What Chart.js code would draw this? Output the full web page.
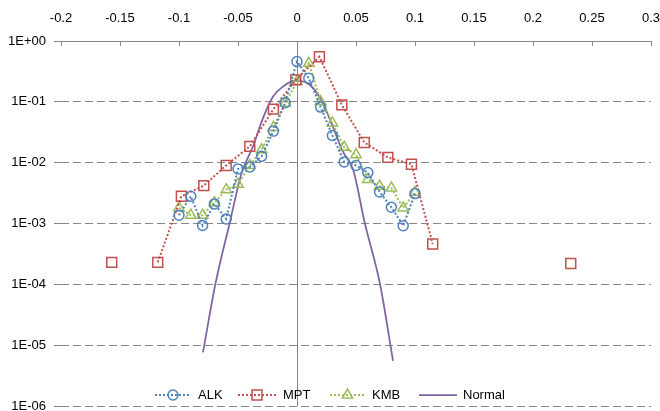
<!DOCTYPE html>
<html>
<head>
<meta charset="utf-8">
<script src="https://cdn.jsdelivr.net/npm/chart.js@4/dist/chart.umd.min.js"></script>
<style>
  html, body { margin: 0; padding: 0; background: #fff; }
  #wrap { width: 660px; height: 411px; }
</style>
</head>
<body>
<div id="wrap"><canvas id="c"></canvas></div>
<script>
// values
var alkX = [-0.10, -0.09, -0.08, -0.07, -0.06, -0.05, -0.04, -0.03, -0.02, -0.01, 0, 0.01, 0.02, 0.03, 0.04, 0.05, 0.06, 0.07, 0.08, 0.09, 0.10];
var alkY = [1.37e-3, 2.8e-3, 9.3e-4, 2.1e-3, 1.19e-3, 7.9e-3, 8.5e-3, 1.27e-2, 3.3e-2, 9.7e-2, 0.46, 0.244, 0.082, 0.028, 0.0103, 9.0e-3, 6.9e-3, 3.3e-3, 1.85e-3, 9.2e-4, 3.1e-3];

var mptX = [-0.157, -0.137, -0.118, -0.098, -0.079, -0.060, -0.040, -0.020, -0.001, 0.019, 0.038, 0.057, 0.077, 0.097, 0.115, 0.135, 0.232];
var mptY = [2.3e-4, null, 2.3e-4, 2.8e-3, 4.2e-3, 9.0e-3, 1.85e-2, 0.076, 0.23, 0.55, 0.089, 0.0215, 0.0122, 9.4e-3, 4.6e-4, null, 2.2e-4];

var kmbX = alkX;
var kmbY = [1.8e-3, 1.37e-3, 1.37e-3, 2.2e-3, 3.6e-3, 4.4e-3, 9.0e-3, 0.0163, 0.038, 0.095, 0.215, 0.43, 0.101, 0.045, 0.018, 0.0135, 5.3e-3, 4.1e-3, 3.85e-3, 1.8e-3, 3.26e-3];

var normX = [-0.0797, -0.0689, -0.057, -0.0471, -0.0373, -0.0288, -0.0203, -0.0119, -0.002, 0.008, 0.0149, 0.0219, 0.0304, 0.0388, 0.0475, 0.0574, 0.0701, 0.0814];
var normY = [7.6e-6, 1.07e-4, 1.03e-3, 6.6e-3, 0.0185, 0.054, 0.122, 0.178, 0.223, 0.207, 0.157, 0.095, 0.039, 0.0153, 7.7e-3, 1.03e-3, 1.07e-4, 5.5e-6];

var xTicks = [-0.2, -0.15, -0.1, -0.05, 0, 0.05, 0.1, 0.15, 0.2, 0.25, 0.3];
var yTicks = [1, 1e-1, 1e-2, 1e-3, 1e-4, 1e-5, 1e-6];

var GRAY = '#878787';
var FONT = { family: "'Liberation Sans', Arial, sans-serif", size: 13 };

function pts(xs, ys) {
  return xs.map(function(x, i) { return { x: x, y: ys[i] }; });
}

function expLabel(v) {
  var e = Math.round(Math.log10(v));
  var a = Math.abs(e);
  return '1E' + (e < 0 ? '-' : '+') + (a < 10 ? '0' : '') + a;
}

// tick marks inside the top axis, and the legend drawn over the plot
var extras = {
  id: 'extras',
  afterDraw: function(chart) {
    var ctx = chart.ctx;
    var xs = chart.scales.x;
    var top = chart.chartArea.top;
    ctx.save();
    ctx.strokeStyle = GRAY;
    ctx.lineWidth = 1;
    xTicks.forEach(function(v) {
      var px = Math.round(xs.getPixelForValue(v)) + 0.5;
      ctx.beginPath();
      ctx.moveTo(px, top);
      ctx.lineTo(px, top + 5);
      ctx.stroke();
    });

    // legend
    var y = 395;
    var items = [
      { ds: 0, x0: 155, x1: 191, tx: 198 },
      { ds: 1, x0: 238, x1: 276, tx: 283 },
      { ds: 2, x0: 330, x1: 365, tx: 372 },
      { ds: 3, x0: 419, x1: 457, tx: 463 }
    ];
    ctx.font = FONT.size + 'px ' + FONT.family;
    ctx.textBaseline = 'middle';
    items.forEach(function(it) {
      var ds = chart.data.datasets[it.ds];
      ctx.save();
      ctx.strokeStyle = ds.borderColor;
      ctx.lineWidth = ds.borderWidth;
      ctx.setLineDash(ds.borderDash || []);
      ctx.beginPath();
      ctx.moveTo(it.x0, y);
      ctx.lineTo(it.x1, y);
      ctx.stroke();
      ctx.restore();
      if (ds.pointRadius > 0) {
        ctx.save();
        ctx.strokeStyle = ds.pointBorderColor;
        ctx.fillStyle = 'rgba(0,0,0,0)';
        ctx.lineWidth = ds.pointBorderWidth;
        Chart.helpers.drawPoint(ctx, { pointStyle: ds.pointStyle, radius: ds.pointRadius, rotation: 0, borderWidth: ds.pointBorderWidth }, (it.x0 + it.x1) / 2, y);
        ctx.restore();
      }
      ctx.fillStyle = '#000';
      ctx.fillText(ds.label, it.tx, y);
    });
    ctx.restore();
  }
};

var dotted = [2, 2];

new Chart(document.getElementById('c'), {
  type: 'line',
  data: {
    datasets: [
      {
        label: 'ALK', data: pts(alkX, alkY),
        borderColor: '#4F81BD', borderWidth: 2, borderDash: dotted,
        pointStyle: 'circle', pointRadius: 5, pointBorderWidth: 1.5,
        pointBorderColor: '#4F81BD', pointBackgroundColor: 'rgba(0,0,0,0)'
      },
      {
        label: 'MPT', data: pts(mptX, mptY),
        borderColor: '#C0504D', borderWidth: 2, borderDash: dotted, spanGaps: false,
        pointStyle: 'rect', pointRadius: 7, pointBorderWidth: 1.5,
        pointBorderColor: '#C0504D', pointBackgroundColor: 'rgba(0,0,0,0)'
      },
      {
        label: 'KMB', data: pts(kmbX, kmbY),
        borderColor: '#9BBB59', borderWidth: 2, borderDash: dotted,
        pointStyle: 'triangle', pointRadius: 6, pointBorderWidth: 1.5,
        pointBorderColor: '#9BBB59', pointBackgroundColor: 'rgba(0,0,0,0)'
      },
      {
        label: 'Normal', data: pts(normX, normY),
        borderColor: '#8064A2', borderWidth: 1.75,
        pointRadius: 0, cubicInterpolationMode: 'monotone'
      }
    ]
  },
  options: {
    responsive: true,
    maintainAspectRatio: false,
    animation: false,
    events: [],
    layout: { autoPadding: false, padding: { left: 0, right: 9, top: 0, bottom: 5 } },
    plugins: { legend: { display: false }, tooltip: { enabled: false } },
    scales: {
      x: {
        type: 'linear', position: 'top', min: -0.2, max: 0.3,
        afterBuildTicks: function(s) { s.ticks = xTicks.map(function(v) { return { value: v }; }); },
        afterFit: function(s) { s.height = 41; s.paddingLeft = 0; s.paddingRight = 0; },
        ticks: {
          font: FONT, color: '#000', padding: 15, maxRotation: 0, autoSkip: false,
          callback: function(v) { return String(Math.round(v * 100) / 100); }
        },
        grid: {
          drawTicks: false, lineWidth: 1,
          color: function(c) { return c.tick && Math.abs(c.tick.value) < 1e-9 ? GRAY : 'rgba(0,0,0,0)'; }
        },
        border: { display: true, color: GRAY, width: 1 }
      },
      y: {
        type: 'logarithmic', position: 'left', min: 1e-6, max: 1,
        afterBuildTicks: function(s) { s.ticks = yTicks.map(function(v) { return { value: v }; }); },
        afterFit: function(s) { s.width = 61; s.paddingTop = 0; s.paddingBottom = 0; },
        ticks: {
          font: FONT, color: '#000', padding: 8, autoSkip: false,
          callback: function(v) { return expLabel(v); }
        },
        grid: {
          lineWidth: 1, tickLength: 7, tickColor: GRAY,
          color: function(c) { return c.tick && c.tick.value === 1 ? 'rgba(0,0,0,0)' : GRAY; }
        },
        border: { display: false, dash: [8, 4] }
      }
    }
  },
  plugins: [extras]
});
</script>
</body>
</html>
